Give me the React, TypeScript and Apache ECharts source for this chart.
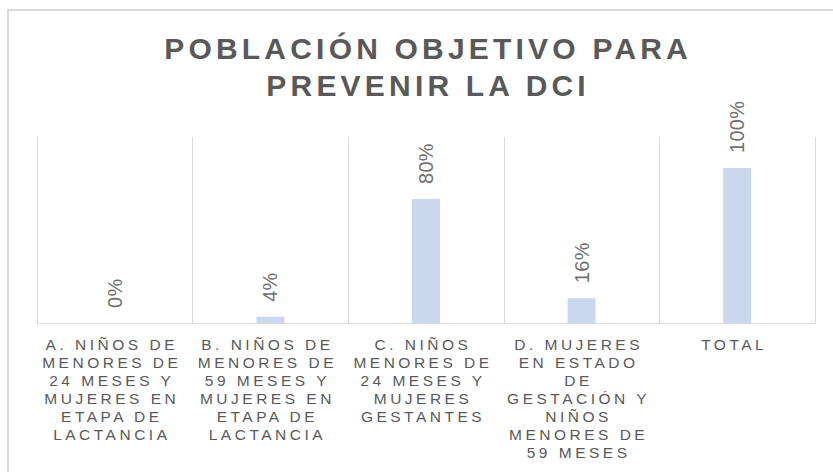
import React, { useEffect, useRef } from 'react';
import * as echarts from 'echarts';

const TITLE_LINES = ['POBLACIÓN OBJETIVO PARA', 'PREVENIR LA DCI'];

const CATEGORIES = [
  'A. NIÑOS DE\nMENORES DE\n24 MESES Y\nMUJERES EN\nETAPA DE\nLACTANCIA',
  'B. NIÑOS DE\nMENORES DE\n59 MESES Y\nMUJERES EN\nETAPA DE\nLACTANCIA',
  'C. NIÑOS\nMENORES DE\n24 MESES Y\nMUJERES\nGESTANTES',
  'D. MUJERES\nEN ESTADO\nDE\nGESTACIÓN Y\nNIÑOS\nMENORES DE\n59 MESES',
  'TOTAL',
];

const VALUES = [0, 0.04, 0.8, 0.16, 1.0];

const FONT = '"Liberation Sans", Arial, Helvetica, sans-serif';

export default function App() {
  const ref = useRef<HTMLDivElement>(null);

  useEffect(() => {
    const el = ref.current;
    if (!el) return;
    const chart = echarts.init(el, null, { renderer: 'svg', width: 833, height: 472 });

    const applySpacing = () => {
      const texts = el.querySelectorAll('text');
      texts.forEach((t) => {
        const s = (t.textContent || '').trim();
        if (TITLE_LINES.includes(s)) {
          t.setAttribute('letter-spacing', '4.2');
          t.setAttribute('dx', '2.1');
        } else if (s.endsWith('%')) {
          t.setAttribute('letter-spacing', '0.3');
        } else if (s.length > 0) {
          t.setAttribute('letter-spacing', '3.5');
          t.setAttribute('dx', '-3');
        }
      });
    };

    chart.on('finished', applySpacing);

    chart.setOption({
      animation: false,
      backgroundColor: '#ffffff',
      graphic: [
        {
          type: 'rect',
          silent: true,
          shape: { x: 8, y: 10, width: 900, height: 600 },
          style: { fill: 'none', stroke: '#D9D9D9', lineWidth: 2 },
        },
        {
          type: 'text',
          silent: true,
          x: 426,
          y: 67,
          style: {
            text: TITLE_LINES.join('\n'),
            align: 'center',
            verticalAlign: 'middle',
            fontSize: 30,
            fontWeight: 'bold',
            fontFamily: FONT,
            lineHeight: 37,
            fill: '#595959',
          },
        },
      ],
      grid: { left: 37, right: 18, top: 137, bottom: 149 },
      xAxis: {
        type: 'category',
        data: CATEGORIES,
        boundaryGap: true,
        axisTick: { show: false },
        axisLine: { show: true, lineStyle: { color: '#D9D9D9', width: 1 } },
        splitLine: { show: true, interval: 0, lineStyle: { color: '#D9D9D9', width: 1 } },
        axisLabel: {
          interval: 0,
          margin: 12,
          color: '#595959',
          fontSize: 15.5,
          fontFamily: FONT,
          lineHeight: 18,
          align: 'center',
        },
      },
      yAxis: { type: 'value', min: 0, max: 1.2, show: false, splitLine: { show: false } },
      series: [
        {
          type: 'bar',
          data: VALUES,
          barWidth: 28,
          silent: true,
          itemStyle: { color: '#C9D8EE' },
          label: {
            show: true,
            position: 'top',
            rotate: 90,
            align: 'left',
            verticalAlign: 'middle',
            distance: 15,
            fontSize: 20,
            fontFamily: FONT,
            color: '#707070',
            formatter: (p: any) => Math.round(p.value * 100) + '%',
          },
        },
      ],
    });

    applySpacing();
    const timer = window.setTimeout(applySpacing, 50);

    return () => {
      window.clearTimeout(timer);
      chart.dispose();
    };
  }, []);

  return (
    <div
      ref={ref}
      style={{ position: 'fixed', left: 0, top: 0, width: 833, height: 472, background: '#fff' }}
    />
  );
}
